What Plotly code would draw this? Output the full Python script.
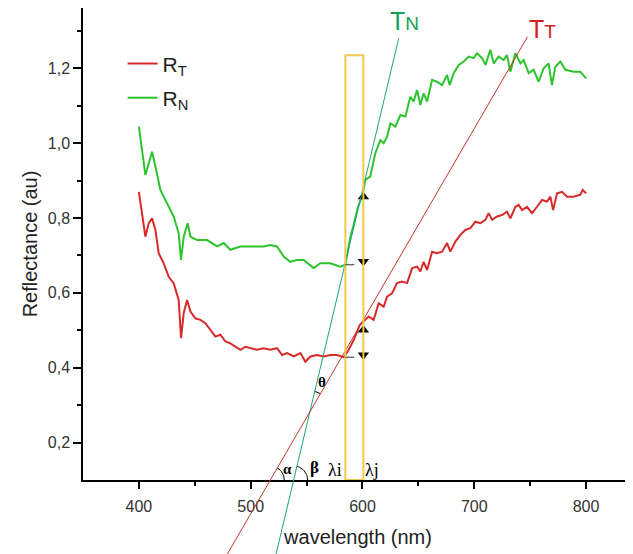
import math
import plotly.graph_objects as go

# ---------------- data ----------------
wl_N = [400, 402.9, 405.8, 408.8, 411.8, 414.8, 419.2, 422.2, 426.7, 431.1, 435.6, 437.7,
        440.1, 443.6, 446.1, 452.1, 461, 470, 475.9, 481.8, 490.8, 499.7, 511.6, 517.6,
        523.6, 529.5, 535.5, 541.5, 547.4, 556.4, 562.3, 571.3, 580.2, 584.7, 589.2, 592,
        596, 600, 602.6, 607, 611.5, 616, 619, 622, 625, 629.4, 633.9, 638.4, 642.8, 645.8,
        648.8, 651.8, 654.7, 657.8, 662.3, 666.7, 671.2, 675.7, 678, 681.6, 686.1, 690.6,
        695, 699.5, 702.5, 707, 710, 714.4, 717.4, 721.8, 726.3, 729.3, 732.3, 736.8, 741.2,
        744.2, 748.7, 753.1, 757.6, 762.1, 766.5, 769.5, 772.5, 777, 781.5, 788.9, 794.9, 800]
R_N = [1.044, 0.982, 0.915, 0.946, 0.977, 0.937, 0.875, 0.857, 0.830, 0.804, 0.759, 0.688,
       0.750, 0.786, 0.750, 0.741, 0.741, 0.724, 0.733, 0.715, 0.724, 0.724, 0.724, 0.728,
       0.724, 0.697, 0.683, 0.688, 0.688, 0.666, 0.679, 0.679, 0.670, 0.675, 0.750, 0.780,
       0.830, 0.860, 0.902, 0.911, 0.973, 1.008, 1.000, 1.017, 1.053, 1.044, 1.075, 1.071,
       1.124, 1.111, 1.142, 1.102, 1.133, 1.111, 1.169, 1.164, 1.155, 1.182, 1.155, 1.187,
       1.209, 1.218, 1.231, 1.227, 1.240, 1.227, 1.209, 1.249, 1.213, 1.231, 1.222, 1.235,
       1.191, 1.240, 1.213, 1.222, 1.187, 1.196, 1.164, 1.200, 1.213, 1.155, 1.204, 1.218,
       1.196, 1.191, 1.191, 1.173]

wl_T = [400, 402.9, 405.8, 408.8, 411.8, 414.8, 417.7, 422.2, 426.7, 431.1, 435.6, 437.7,
        440.1, 443.1, 446.1, 450.5, 455, 459.5, 463.9, 468.4, 472.9, 477.4, 481.8, 486.3,
        490.8, 495.3, 499.7, 505.7, 511.6, 517.6, 523.6, 528.1, 532.6, 538.5, 544.5, 548.9,
        553.4, 559.4, 565.3, 571.3, 577.3, 583.2, 587.7, 592.1, 597.5, 601, 605.5, 610,
        614.5, 619, 622, 626.5, 630.9, 635.4, 639.9, 644.4, 648.9, 651.8, 654.7, 657.8,
        662.3, 666.7, 671.2, 675.7, 678.6, 683.1, 687.6, 692, 696.5, 701, 705.5, 709.9,
        712.9, 716, 720.4, 724.9, 729.3, 732.3, 736.8, 739.7, 742.8, 747.2, 751.7, 756.2,
        760.6, 765.1, 768.1, 770.5, 774.1, 778.5, 783, 788.9, 794.9, 797, 800]
R_T = [0.870, 0.804, 0.750, 0.786, 0.799, 0.768, 0.706, 0.679, 0.643, 0.626, 0.581, 0.479,
       0.546, 0.581, 0.550, 0.532, 0.528, 0.519, 0.501, 0.483, 0.488, 0.470, 0.465, 0.456,
       0.448, 0.456, 0.452, 0.448, 0.452, 0.448, 0.452, 0.434, 0.439, 0.430, 0.439, 0.416,
       0.430, 0.434, 0.430, 0.434, 0.434, 0.428, 0.448, 0.474, 0.514, 0.523, 0.537, 0.528,
       0.572, 0.563, 0.590, 0.599, 0.626, 0.630, 0.626, 0.666, 0.670, 0.657, 0.683, 0.661,
       0.710, 0.706, 0.710, 0.733, 0.710, 0.737, 0.755, 0.768, 0.773, 0.790, 0.786, 0.795,
       0.813, 0.795, 0.804, 0.808, 0.817, 0.799, 0.830, 0.835, 0.821, 0.830, 0.813, 0.830,
       0.848, 0.844, 0.857, 0.821, 0.866, 0.870, 0.857, 0.857, 0.862, 0.875, 0.866]

# tangent lines (two points each)
tn_x = [522.7, 632.4]
tn_y = [-0.098, 1.28]
tt_x = [479.1, 747.6]
tt_y = [-0.098, 1.284]

# window lambda_i .. lambda_j
lam_i, lam_j = 584.7, 600.8
win_top = 1.235

# arrows (delta R)
arrN_y = [0.857, 0.684]
arrT_y = [0.501, 0.434]
baseN = 0.675
baseT = 0.428

x_ticks = [400, 500, 600, 700, 800]
x_ticktext = ["400", "500", "600", "700", "800"]
x_minor = [450, 550, 650, 750]
y_ticks = [0.2, 0.4, 0.6, 0.8, 1.0, 1.2]
y_ticktext = ["0,2", "0,4", "0,6", "0,8", "1,0", "1,2"]
y_minor = [0.3, 0.5, 0.7, 0.9, 1.1, 1.3]

X_RANGE = [350, 842]
Y_RANGE = [0.1, 1.361]

# ---------------- layout geometry (page body has an 8px margin) ----------------
W, H = 625, 546
ML, MR, MT, MB = 75, 0, 0, 74
PW, PH = W - ML - MR, H - MT - MB
px_x = PW / (X_RANGE[1] - X_RANGE[0])
px_y = PH / (Y_RANGE[1] - Y_RANGE[0])


def ypaper(v):
    return (v - Y_RANGE[0]) / (Y_RANGE[1] - Y_RANGE[0])


def arc(cx, cy, r, a0, a1, n=20):
    xs, ys = [], []
    for k in range(n + 1):
        a = math.radians(a0 + (a1 - a0) * k / n)
        xs.append(cx + r * math.cos(a) / px_x)
        ys.append(cy + r * math.sin(a) / px_y)
    return xs, ys


RED = "#d92a2a"
GREEN = "#2ec42e"
TEAL = "#1fa57a"
TRED = "#c0392b"
YEL = "#f3c84e"
FONT = "Arial, Liberation Sans, sans-serif"
SERIF = "Times New Roman, Liberation Serif, serif"

fig = go.Figure()

fig.add_trace(go.Scatter(x=wl_T, y=R_T, mode="lines", name="R<sub>T</sub>",
                         line=dict(color=RED, width=2), legendgroup="a"))
fig.add_trace(go.Scatter(x=wl_N, y=R_N, mode="lines", name="R<sub>N</sub>",
                         line=dict(color=GREEN, width=2), legendgroup="b"))

# arrows
for ys in (arrN_y, arrT_y):
    fig.add_trace(go.Scatter(x=[lam_j, lam_j], y=ys, mode="lines+markers",
                             line=dict(color="#444", width=1, dash="dot"),
                             marker=dict(symbol=["triangle-up", "triangle-down"], size=10, color="black"),
                             showlegend=False, hoverinfo="skip"))

# angle arcs
ax_a = arc(tt_x[0] + (Y_RANGE[0] - tt_y[0]) * (tt_x[1] - tt_x[0]) / (tt_y[1] - tt_y[0]), Y_RANGE[0], 14, 0, 60)
ax_b = arc(tn_x[0] + (Y_RANGE[0] - tn_y[0]) * (tn_x[1] - tn_x[0]) / (tn_y[1] - tn_y[0]), Y_RANGE[0], 14, 0, 77)
sN = (tn_y[1] - tn_y[0]) / (tn_x[1] - tn_x[0])
sT = (tt_y[1] - tt_y[0]) / (tt_x[1] - tt_x[0])
xi = (tt_y[0] - tn_y[0] + sN * tn_x[0] - sT * tt_x[0]) / (sN - sT)
yi = tn_y[0] + sN * (xi - tn_x[0])
ax_t = arc(xi, yi, 21, 60, 77)
for xs, ys in (ax_a, ax_b, ax_t):
    fig.add_trace(go.Scatter(x=xs, y=ys, mode="lines", line=dict(color="black", width=1),
                             showlegend=False, hoverinfo="skip"))

shapes = [
    dict(type="line", xref="x", yref="paper", x0=tn_x[0], x1=tn_x[1],
         y0=ypaper(tn_y[0]), y1=ypaper(tn_y[1]), line=dict(color=TEAL, width=1)),
    dict(type="line", xref="x", yref="paper", x0=tt_x[0], x1=tt_x[1],
         y0=ypaper(tt_y[0]), y1=ypaper(tt_y[1]), line=dict(color=TRED, width=1)),
    dict(type="rect", xref="x", yref="y", x0=lam_i, x1=lam_j, y0=Y_RANGE[0], y1=win_top,
         line=dict(color=YEL, width=2), fillcolor="rgba(0,0,0,0)"),
    dict(type="line", xref="x", yref="y", x0=lam_i, x1=lam_j, y0=baseN, y1=baseN,
         line=dict(color="#333", width=1, dash="dash")),
    dict(type="line", xref="x", yref="y", x0=lam_i, x1=lam_j, y0=baseT, y1=baseT,
         line=dict(color="#333", width=1, dash="dash")),
]

annotations = [
    dict(x=638, y=0.972, xref="x", yref="paper", text="T<span style='font-size:19px'>N</span>",
         showarrow=False, xanchor="center", yanchor="middle",
         font=dict(family=FONT, size=25, color="#17a058")),
    dict(x=761, y=0.956, xref="x", yref="paper", text="T<span style='font-size:19px'>T</span>",
         showarrow=False, xanchor="center", yanchor="middle",
         font=dict(family=FONT, size=25, color="#d42020")),
    dict(x=563.9, y=0.363, text="<b>θ</b>", showarrow=False, font=dict(family=SERIF, size=15, color="black")),
    dict(x=533.1, y=0.129, text="<b>α</b>", showarrow=False, font=dict(family=SERIF, size=15, color="black")),
    dict(x=557.2, y=0.134, text="<b>β</b>", showarrow=False, font=dict(family=SERIF, size=17, color="black")),
    dict(x=575.8, y=0.127, text="λi", showarrow=False, font=dict(family=SERIF, size=18, color="black")),
    dict(x=608.9, y=0.127, text="λj", showarrow=False, font=dict(family=SERIF, size=18, color="black")),
]

fig.update_layout(
    width=W, height=H,
    margin=dict(l=ML, r=MR, t=MT, b=MB, autoexpand=False),
    paper_bgcolor="white", plot_bgcolor="white",
    font=dict(family=FONT, color="#222"),
    shapes=shapes, annotations=annotations,
    showlegend=True,
    legend=dict(x=0.072, y=0.925, xanchor="left", yanchor="top", bgcolor="rgba(0,0,0,0)",
                font=dict(family=FONT, size=21, color="#222"), traceorder="grouped",
                tracegroupgap=4),
    xaxis=dict(range=X_RANGE, showgrid=False, zeroline=False, showline=True, linecolor="black",
               linewidth=1.5, ticks="outside", ticklen=7, tickwidth=1.5, tickcolor="black",
               tickvals=x_ticks, ticktext=x_ticktext, tickfont=dict(size=16, color="#333"),
               ticklabelstandoff=4, automargin=False,
               minor=dict(tickvals=x_minor, ticks="outside", ticklen=4, tickwidth=1.5, tickcolor="black"),
               title=dict(text="wavelength (nm)", font=dict(size=20, color="#222"), standoff=16)),
    yaxis=dict(range=Y_RANGE, showgrid=False, zeroline=False, showline=True, linecolor="black",
               linewidth=1.5, ticks="outside", ticklen=8, tickwidth=1.5, tickcolor="black",
               tickvals=y_ticks, ticktext=y_ticktext, tickfont=dict(size=16, color="#333"),
               automargin=False,
               minor=dict(tickvals=y_minor, ticks="outside", ticklen=4, tickwidth=1.5, tickcolor="black"),
               title=dict(text="Reflectance (au)", font=dict(size=20, color="#222"), standoff=5)),
)

fig.write_html("out.html")
